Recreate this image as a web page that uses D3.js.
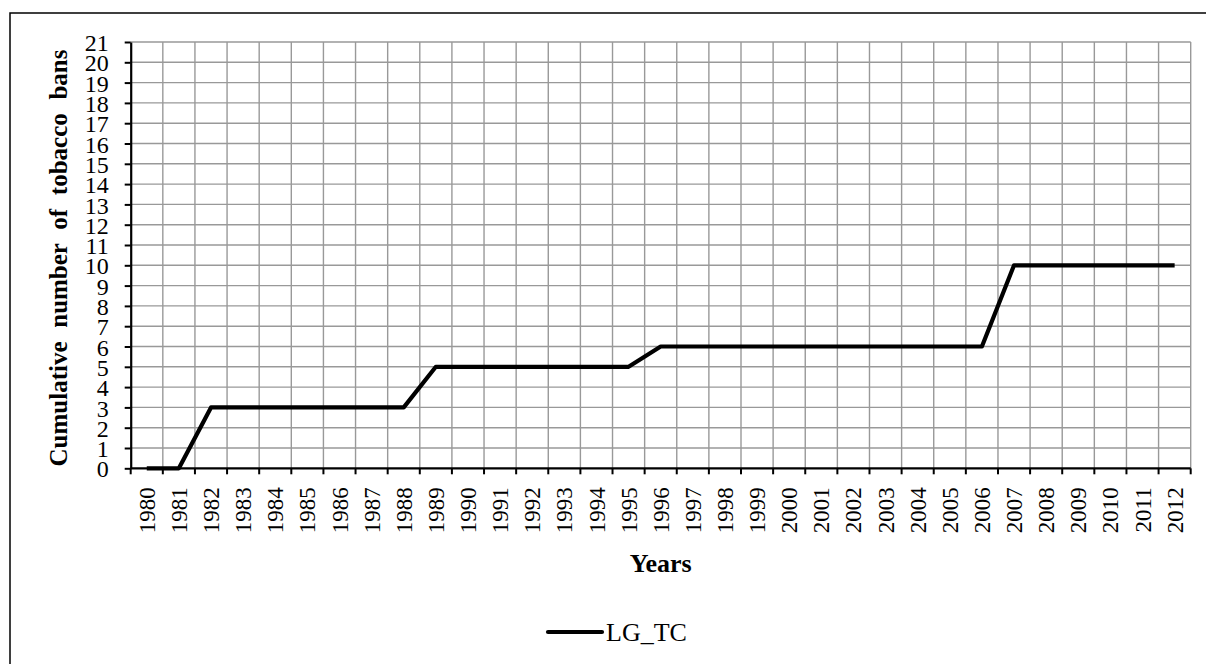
<!DOCTYPE html>
<html>
<head>
<meta charset="utf-8">
<script src="https://cdn.jsdelivr.net/npm/d3@7"></script>
<style>
  body { margin: 0; background: #fff; }
  svg { display: block; font-family: "Liberation Serif", "Times New Roman", serif; }
</style>
</head>
<body>
<svg id="chart"></svg>
<script>
// data
const years = [];
for (let y = 1980; y <= 2012; y++) years.push(String(y));
const bans = [0, 0, 3, 3, 3, 3, 3, 3, 3, 5, 5, 5, 5, 5, 5, 5, 6, 6, 6, 6, 6, 6, 6, 6, 6, 6, 6, 10, 10, 10, 10, 10, 10];
const yTicks = d3.range(0, 22);
const seriesName = "LG_TC";

const width = 1206;
const height = 664;
const marginTop = 42;
const marginLeft = 130.7;
const marginRight = 15.3;
const plotBottom = 468.3;

const svg = d3.select("svg#chart")
  .attr("width", width)
  .attr("height", height)
  .attr("viewBox", [0, 0, width, height]);

// outer frame (runs off the right and bottom of the page)
svg.append("rect")
  .attr("x", 10).attr("y", 13)
  .attr("width", 1300).attr("height", 800)
  .attr("fill", "none")
  .attr("stroke", "#000")
  .attr("stroke-width", 1.5);

const x = d3.scaleBand(years, [marginLeft, width - marginRight]);
const y = d3.scaleLinear([0, 21], [plotBottom, marginTop]);

// grid
const grid = svg.append("g").attr("stroke", "#999").attr("stroke-width", 1.4);
grid.selectAll("line.h").data(yTicks.slice(1)).join("line")
  .attr("x1", marginLeft).attr("x2", width - marginRight)
  .attr("y1", d => y(d)).attr("y2", d => y(d));
const bounds = years.map(d => x(d)).concat([x.range()[1]]);
grid.selectAll("line.v").data(bounds.slice(1)).join("line")
  .attr("x1", d => d).attr("x2", d => d)
  .attr("y1", marginTop).attr("y2", plotBottom);

// y axis
svg.append("g")
  .attr("transform", `translate(${marginLeft},0)`)
  .call(d3.axisLeft(y).tickValues(yTicks).tickSize(6).tickPadding(16).tickSizeOuter(0))
  .call(g => g.select(".domain").attr("stroke-width", 2.2))
  .call(g => g.selectAll(".tick line").attr("stroke-width", 2))
  .call(g => g.selectAll(".tick text")
    .attr("font-size", 24).attr("fill", "#000")
    .attr("font-family", "Liberation Serif")
    .attr("dy", "0.36em"));

// x axis: ticks on category boundaries
const xAxisG = svg.append("g").attr("transform", `translate(0,${plotBottom})`);
xAxisG.append("line")
  .attr("x1", marginLeft).attr("x2", width - marginRight)
  .attr("stroke", "#000").attr("stroke-width", 2.2);
xAxisG.selectAll("line.tk").data(bounds).join("line")
  .attr("x1", d => d).attr("x2", d => d)
  .attr("y1", 0).attr("y2", 6)
  .attr("stroke", "#000").attr("stroke-width", 2);
xAxisG.selectAll("text").data(years).join("text")
  .attr("transform", d => `translate(${x(d) + x.bandwidth() / 2},19) rotate(-90)`)
  .attr("text-anchor", "end")
  .attr("dy", "0.35em")
  .attr("font-size", 23)
  .text(d => d);

// axis titles
svg.append("text")
  .attr("x", (marginLeft + width - marginRight) / 2)
  .attr("y", 572)
  .attr("text-anchor", "middle")
  .attr("font-size", 26)
  .attr("font-weight", "bold")
  .text("Years");

const yTitle = svg.append("text")
  .attr("transform", `translate(67,258) rotate(-90)`)
  .attr("text-anchor", "middle")
  .attr("font-size", 25)
  .attr("font-weight", "bold")
  .text("Cumulative number of tobacco bans");
const natural = yTitle.node().getComputedTextLength();
yTitle.attr("word-spacing", Math.max(0, (417 - natural) / 4));

// line
const line = d3.line()
  .x((d, i) => x(years[i]) + x.bandwidth() / 2)
  .y(d => y(d));
svg.append("path")
  .attr("fill", "none")
  .attr("stroke", "#000")
  .attr("stroke-width", 4.2)
  .attr("stroke-linejoin", "round")
  .attr("d", line(bans));

// legend
const legend = svg.append("g").attr("transform", "translate(548,632)");
legend.append("line")
  .attr("x1", 0).attr("x2", 54)
  .attr("stroke", "#000").attr("stroke-width", 4.2)
  .attr("stroke-linecap", "round");
legend.append("text")
  .attr("x", 58).attr("y", 0).attr("dy", "0.34em")
  .attr("font-size", 26)
  .text(seriesName);
</script>
</body>
</html>
